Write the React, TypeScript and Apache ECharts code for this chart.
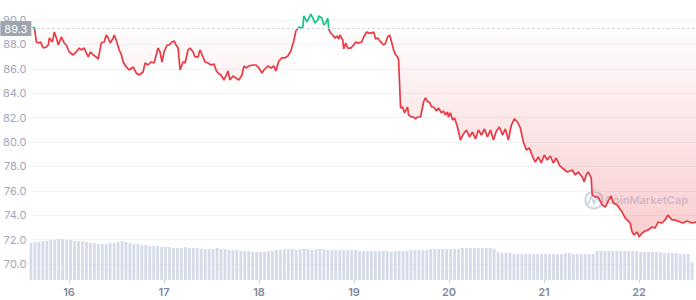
import React, { useEffect, useRef } from "react";
import * as echarts from "echarts";

// price series: time in days (day-of-month), price values
const priceTimes = [
  15.6, 15.621, 15.642, 15.663, 15.684, 15.716, 15.747, 15.768, 15.779, 15.811, 15.832, 15.853, 15.874, 15.905,
  15.937, 15.958, 15.989, 16.032, 16.063, 16.095, 16.116, 16.147, 16.168, 16.189, 16.211, 16.242, 16.274, 16.295,
  16.326, 16.358, 16.379, 16.4, 16.421, 16.453, 16.463, 16.484, 16.516, 16.537, 16.558, 16.589, 16.621, 16.663,
  16.695, 16.726, 16.768, 16.789, 16.821, 16.853, 16.884, 16.926, 16.947, 16.968, 16.989, 17.021, 17.042, 17.074,
  17.095, 17.116, 17.137, 17.158, 17.189, 17.211, 17.242, 17.263, 17.295, 17.316, 17.347, 17.368, 17.4, 17.421,
  17.453, 17.484, 17.516, 17.537, 17.558, 17.589, 17.621, 17.642, 17.663, 17.684, 17.716, 17.747, 17.779, 17.811,
  17.832, 17.853, 17.884, 17.926, 17.958, 17.989, 18.021, 18.042, 18.084, 18.116, 18.147, 18.168, 18.2, 18.232,
  18.263, 18.295, 18.326, 18.358, 18.379, 18.4, 18.411, 18.432, 18.453, 18.463, 18.495, 18.516, 18.537, 18.568,
  18.579, 18.611, 18.621, 18.653, 18.674, 18.695, 18.716, 18.726, 18.747, 18.768, 18.789, 18.811, 18.832, 18.842,
  18.874, 18.884, 18.905, 18.926, 18.958, 18.989, 19.011, 19.032, 19.074, 19.095, 19.126, 19.147, 19.179, 19.2,
  19.221, 19.242, 19.274, 19.305, 19.326, 19.347, 19.368, 19.389, 19.411, 19.432, 19.453, 19.463, 19.484, 19.505,
  19.526, 19.558, 19.568, 19.6, 19.621, 19.642, 19.663, 19.695, 19.726, 19.747, 19.768, 19.789, 19.811, 19.832,
  19.863, 19.884, 19.916, 19.937, 19.958, 19.979, 19.989, 20.011, 20.032, 20.053, 20.084, 20.116, 20.147, 20.179,
  20.211, 20.242, 20.274, 20.305, 20.337, 20.368, 20.4, 20.432, 20.463, 20.495, 20.526, 20.558, 20.589, 20.621,
  20.653, 20.684, 20.716, 20.747, 20.779, 20.811, 20.842, 20.874, 20.905, 20.937, 20.968, 21.0, 21.032, 21.063,
  21.095, 21.126, 21.158, 21.189, 21.242, 21.295, 21.326, 21.358, 21.4, 21.421, 21.442, 21.463, 21.495, 21.505,
  21.537, 21.568, 21.611, 21.642, 21.674, 21.705, 21.726, 21.768, 21.789, 21.821, 21.853, 21.874, 21.905, 21.926,
  21.947, 21.979, 22.0, 22.032, 22.063, 22.095, 22.137, 22.168, 22.2, 22.242, 22.274, 22.305, 22.347, 22.379,
  22.432, 22.463, 22.505, 22.558, 22.6,
];

const prices = [
  89.3, 89.4, 88.2, 88.11, 88.2, 87.7, 87.79, 87.95, 88.52, 88.2, 89.02, 88.52, 87.95, 88.61,
  88.11, 87.95, 87.38, 87.13, 87.38, 87.7, 87.54, 87.7, 87.3, 86.97, 87.38, 87.13, 86.97, 86.8,
  88.11, 88.2, 88.77, 88.52, 88.11, 88.52, 88.77, 88.36, 87.54, 87.21, 86.56, 86.15, 85.9, 86.15,
  85.66, 85.49, 85.74, 86.48, 86.31, 86.56, 86.48, 87.7, 87.38, 86.56, 87.38, 87.95, 87.95, 88.2,
  88.28, 87.95, 87.7, 85.9, 86.56, 86.48, 87.54, 87.7, 87.38, 86.97, 86.97, 87.54, 86.97, 86.56,
  86.48, 86.31, 86.39, 85.9, 85.66, 85.49, 85.08, 85.41, 85.82, 85.08, 85.41, 85.25, 85.08, 85.49,
  86.23, 86.07, 86.23, 86.31, 86.31, 86.07, 85.66, 85.9, 86.23, 86.07, 86.23, 85.82, 86.64, 86.89,
  86.89, 87.05, 87.46, 88.28, 89.1, 89.3, 89.43, 89.34, 89.43, 90.33, 89.84, 90.16, 90.49, 90.0,
  89.75, 90.0, 90.33, 90.16, 89.59, 89.75, 90.16, 89.26, 88.93, 88.77, 88.52, 88.69, 88.44, 88.77,
  88.36, 87.62, 88.11, 87.7, 87.7, 87.95, 88.2, 88.11, 88.2, 88.61, 89.02, 88.93, 88.93, 89.02,
  88.44, 88.52, 88.2, 87.95, 88.11, 88.61, 88.77, 88.2, 87.54, 87.13, 86.97, 86.72, 82.79, 82.87,
  82.38, 82.87, 82.21, 82.05, 82.05, 81.89, 82.05, 82.05, 83.28, 83.61, 83.28, 83.28, 82.87, 82.87,
  82.54, 82.79, 82.38, 82.54, 82.21, 82.46, 82.05, 82.38, 81.8, 81.97, 81.23, 80.16, 80.66, 80.98,
  80.41, 80.82, 80.25, 80.98, 80.57, 81.07, 80.41, 80.98, 80.16, 80.9, 81.23, 80.57, 81.07, 80.16,
  81.39, 81.89, 81.64, 81.15, 80.0, 79.34, 79.51, 78.85, 78.36, 78.77, 78.28, 78.93, 78.52, 78.85,
  78.28, 78.69, 78.11, 77.87, 77.54, 77.7, 77.3, 77.54, 77.13, 76.72, 77.3, 77.54, 77.05, 75.66,
  75.49, 75.49, 74.84, 74.67, 75.16, 75.57, 75.0, 74.84, 74.59, 74.26, 73.77, 73.61, 73.36, 72.62,
  72.38, 72.62, 72.21, 72.54, 72.7, 72.79, 73.03, 72.95, 73.44, 73.36, 73.61, 74.02, 73.61, 73.61,
  73.44, 73.36, 73.52, 73.36, 73.44,
];

const baselinePrice = 89.3;

// hourly volume bars starting at day 15.6
const volumeStart = 15.6;
const volumes = [
  37, 38, 38, 39, 39, 40, 40, 41, 41, 40, 40, 39, 39, 39, 38, 37, 37, 36, 36, 36, 37, 37, 38, 39,
  38, 37, 36, 36, 35, 35, 34, 34, 34, 33, 33, 33, 32, 32, 32, 33, 32, 32, 32, 31, 31, 31, 31, 32,
  31, 31, 30, 30, 30, 29, 29, 29, 28, 28, 28, 28, 29, 29, 30, 30, 31, 31, 31, 30, 31, 31, 31, 30,
  31, 31, 31, 30, 30, 30, 30, 30, 30, 30, 30, 29, 29, 29, 29, 29, 29, 29, 29, 28, 29, 29, 29, 29,
  30, 30, 30, 30, 30, 31, 31, 31, 31, 31, 31, 31, 31, 32, 32, 32, 32, 32, 32, 32, 32, 31, 28, 27,
  27, 27, 26, 26, 26, 26, 26, 26, 26, 26, 26, 26, 26, 26, 26, 27, 27, 26, 26, 26, 26, 26, 26, 29,
  29, 29, 29, 29, 29, 29, 29, 29, 29, 29, 28, 28, 28, 28, 28, 28, 27, 27, 27, 27, 26, 26, 26, 18,
];

const dayTicks = [16, 17, 18, 19, 20, 21, 22];

const RED = "#ea3943";
const GREEN = "#16c784";
const WM = "rgba(160,172,196,0.5)";

export default function App() {
  const ref = useRef<HTMLDivElement>(null);

  useEffect(() => {
    if (!ref.current) return;
    const chart = echarts.init(ref.current, null, { renderer: "svg" });

    const priceData = priceTimes.map((t, i) => [t, prices[i]]);
    const volData = volumes.map((v, i) => [volumeStart + i / 24, v]);

    chart.setOption({
      animation: false,
      textStyle: { fontFamily: "Inter, 'Noto Sans', sans-serif" },
      grid: [
        { left: 31, right: 0, top: 20, bottom: 36 },
        { left: 31, right: 0, top: 230, bottom: 20 },
      ],
      xAxis: [
        {
          type: "value",
          gridIndex: 0,
          min: 15.6,
          max: 22.6,
          show: false,
          splitLine: { show: false },
        },
        {
          type: "value",
          gridIndex: 1,
          min: 15.6,
          max: 22.6,
          axisLine: { show: false },
          splitLine: { show: false },
          axisTick: {
            show: true,
            length: 3,
            customValues: dayTicks,
            lineStyle: { color: "#c9ced8" },
          },
          axisLabel: {
            customValues: dayTicks,
            margin: 6,
            fontSize: 11,
            fontWeight: 600,
            color: "#808a9d",
            formatter: (v: number) => String(Math.round(v)),
          },
        },
      ],
      yAxis: [
        {
          type: "value",
          gridIndex: 0,
          min: 70,
          max: 90,
          interval: 2,
          axisLine: { show: false },
          axisTick: { show: false },
          splitLine: { lineStyle: { color: "#f0f2f5", width: 1 } },
          axisLabel: {
            margin: 6,
            fontSize: 11,
            color: "#a1a7bb",
            formatter: (v: number) => v.toFixed(1),
          },
        },
        {
          type: "value",
          gridIndex: 1,
          min: 0,
          max: 50,
          show: false,
          splitLine: { show: false },
        },
      ],
      visualMap: {
        type: "piecewise",
        show: false,
        seriesIndex: 1,
        dimension: 1,
        pieces: [
          { gt: baselinePrice, lte: 120, color: GREEN },
          { gte: 0, lte: baselinePrice, color: RED },
        ],
        outOfRange: { color: RED },
      },
      graphic: [
        {
          type: "circle",
          z: 0,
          silent: true,
          shape: { cx: 594, cy: 200, r: 8.5 },
          style: { fill: "none", stroke: WM, lineWidth: 2.2 },
        },
        {
          type: "polyline",
          z: 0,
          silent: true,
          shape: {
            points: [
              [588.5, 204],
              [591, 196.5],
              [594, 203],
              [597, 196.5],
              [599.5, 202],
            ],
          },
          style: { fill: "none", stroke: WM, lineWidth: 1.8 },
        },
        {
          type: "text",
          z: 0,
          silent: true,
          x: 605,
          y: 200,
          style: {
            text: "CoinMarketCap",
            fill: WM,
            font: "600 11px Inter, 'Noto Sans', sans-serif",
            verticalAlign: "middle",
          },
        },
      ],
      series: [
        {
          type: "bar",
          xAxisIndex: 1,
          yAxisIndex: 1,
          data: volData,
          barWidth: 2.8,
          silent: true,
          itemStyle: { color: "#d6dbe9" },
          z: 1,
        },
        {
          type: "line",
          xAxisIndex: 0,
          yAxisIndex: 0,
          data: priceData,
          showSymbol: false,
          symbol: "none",
          clip: false,
          z: 3,
          lineStyle: { width: 1.7 },
          areaStyle: {
            origin: baselinePrice,
            color: new echarts.graphic.LinearGradient(0, 0, 0, 1, [
              { offset: 0, color: "rgba(234,57,67,0.0)" },
              { offset: 0.08, color: "rgba(234,57,67,0.02)" },
              { offset: 1, color: "rgba(234,57,67,0.36)" },
            ]),
          },
          markLine: {
            silent: true,
            symbol: "none",
            lineStyle: { color: "#c3c9d4", type: [2, 3], width: 1 },
            label: {
              show: true,
              position: "start",
              distance: 1,
              formatter: baselinePrice.toFixed(1),
              backgroundColor: "#9fa5ae",
              color: "#ffffff",
              fontSize: 11,
              padding: [2, 4, 2, 4],
            },
            data: [{ yAxis: baselinePrice }],
          },
        },
      ],
    });

    return () => chart.dispose();
  }, []);

  return (
    <div
      ref={ref}
      style={{ position: "absolute", left: 0, top: 0, width: 696, height: 300, background: "#fff" }}
    />
  );
}
